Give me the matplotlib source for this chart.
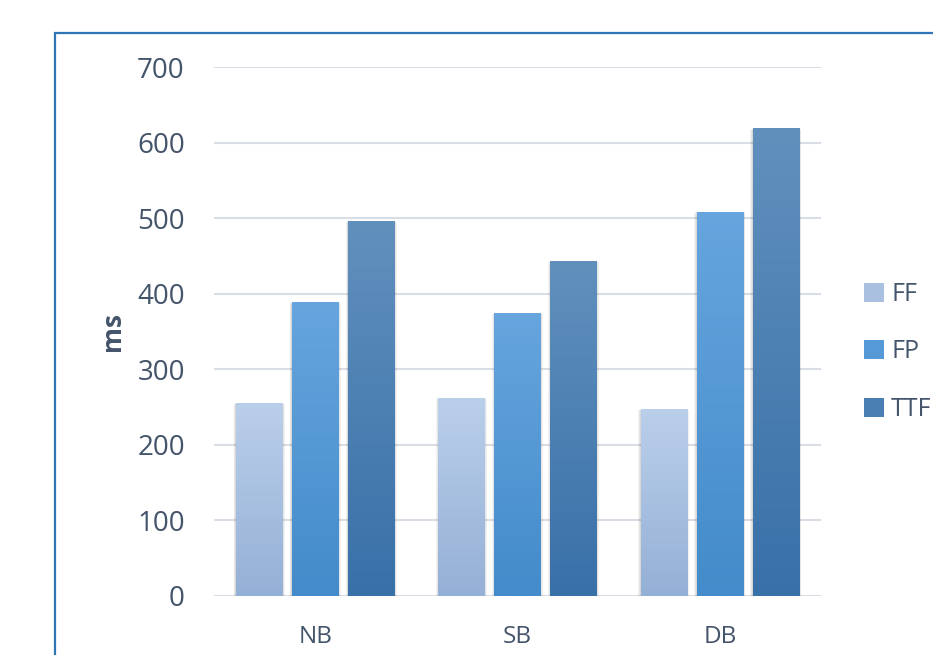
import matplotlib.pyplot as plt
import numpy as np
from matplotlib.patches import Rectangle, Patch
from matplotlib.colors import LinearSegmentedColormap

categories = ["NB", "SB", "DB"]
series = ["FF", "FP", "TTF"]
ff = [255, 262, 247]
fp = [388, 374, 508]
ttf = [496, 443, 618]

# top / bottom colours of each series gradient
grad_colors = {
    "FF": ("#bacfea", "#95b0d6"),
    "FP": ("#66a5de", "#438bca"),
    "TTF": ("#6190bd", "#3870a8"),
}
legend_colors = ["#a9c0e1", "#559ad6", "#4a7fb3"]

text_color = "#44546a"
plt.rcParams['font.family'] = ['Open Sans', 'DejaVu Sans']

fig = plt.figure(figsize=(9.33, 6.55), dpi=100)
ax = fig.add_axes([214 / 933, 1 - 596 / 655, 607 / 933, 529 / 655])

x = np.arange(len(categories))
width = 0.228
step = 0.277

for i, (name, vals) in enumerate(zip(series, [ff, fp, ttf])):
    bars = ax.bar(x + (i - 1) * step, vals, width, color="none", zorder=3)
    top, bottom = grad_colors[name]
    cmap = LinearSegmentedColormap.from_list(name, [bottom, top])
    grad = np.linspace(0, 1, 256).reshape(-1, 1)
    for b in bars:
        bx, bw, bh = b.get_x(), b.get_width(), b.get_height()
        # soft shadow around the bar
        for k, a in enumerate([0.05, 0.05, 0.06]):
            pad = 0.012 - k * 0.004
            ax.add_patch(Rectangle((bx - pad, -4 - k), bw + 2 * pad, bh + 4 + k - pad * 60,
                                   color="black", alpha=a, lw=0, zorder=2))
        ax.imshow(grad, cmap=cmap, origin="lower", aspect="auto",
                  extent=[bx, bx + bw, 0, bh], zorder=3, interpolation="bilinear")
        ax.add_patch(Rectangle((bx, -3), bw, 3, color="#9a9a9a", lw=0, zorder=3))

ax.set_xlim(-0.5, 2.5)
ax.set_ylim(0, 700)
ax.set_yticks(range(0, 701, 100))
ax.set_xticks(x)
ax.set_xticklabels(categories)
ax.grid(axis="y", color="#d9dee6", linewidth=1.5, zorder=0)
ax.set_axisbelow(True)
for s in ax.spines.values():
    s.set_visible(False)
ax.tick_params(length=0, colors=text_color)
ax.tick_params(axis="y", pad=21, labelsize=20)
ax.tick_params(axis="x", pad=21, labelsize=17.5)
ax.set_ylabel("ms", fontsize=19, fontweight="bold", color=text_color, labelpad=8)

# legend sits at the right edge, the last label runs off the figure
handles = [Patch(facecolor=c, label=s) for s, c in zip(series, legend_colors)]
fig.legend(handles=handles, loc="center left", bbox_to_anchor=(864 / 933, 1 - 352 / 655),
           frameon=False, fontsize=18, labelcolor=text_color, handlelength=0.78,
           handleheight=0.78, handletextpad=0.3, labelspacing=1.3, borderpad=0,
           borderaxespad=0)

# chart frame
fig.patches.append(Rectangle((55 / 933, -0.1), 1.0, 0.1 + 1 - 33 / 655, transform=fig.transFigure,
                             fill=False, edgecolor="#2e75b6", linewidth=1.6))

fig.savefig("out.png", dpi=100)
